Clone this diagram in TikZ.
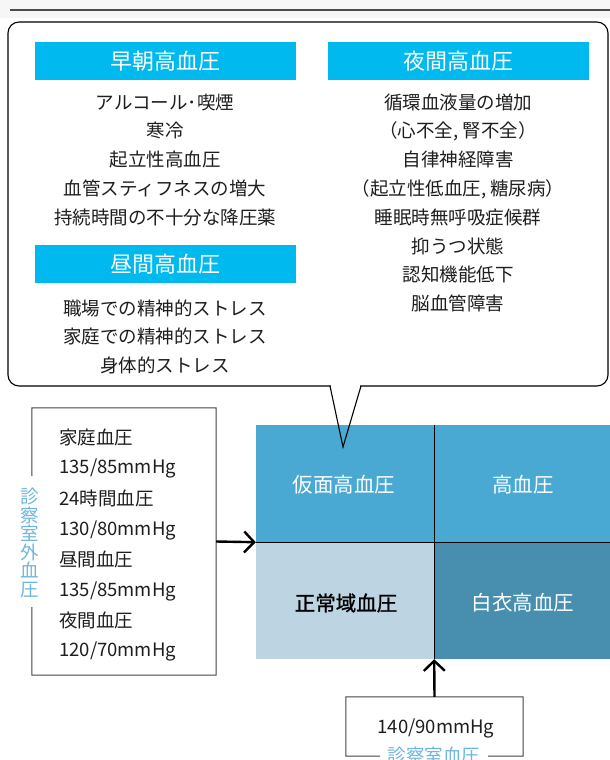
\documentclass[tikz,border=0pt]{standalone}
\usepackage{fontspec}
\setmainfont{Noto Sans CJK JP}
\newfontfamily\jpbold[FakeBold=1.2]{Noto Sans CJK JP}
\usetikzlibrary{arrows.meta}
\definecolor{hdrcyan}{HTML}{00B9EE}
\definecolor{celltop}{HTML}{49A9D2}
\definecolor{cellbl}{HTML}{BDD5E2}
\definecolor{cellbr}{HTML}{488FAF}
\definecolor{lblblue}{HTML}{6DB6DC}
\definecolor{txtdark}{HTML}{1E1E1E}
\definecolor{boxgray}{HTML}{444444}
\tikzset{
  hdr/.style={fill=hdrcyan, text=white, minimum width=261pt, minimum height=38.5pt, inner sep=0pt,
    text height=18.3pt, text depth=1.5pt, font=\fontsize{22}{26}\selectfont},
  bodytxt/.style={inner sep=0pt, text=txtdark, text height=15.4pt, text depth=1.3pt,
    font=\fontsize{18.5}{22}\selectfont},
  boxtxt/.style={bodytxt, anchor=west},
  cell/.style={inner sep=0pt, minimum height=117pt},
  celltxt/.style={inner sep=0pt, text height=17pt, text depth=1.4pt, font=\fontsize{20.5}{24}\selectfont},
  boxline/.style={draw=boxgray, line width=1pt},
  arr/.style={line width=2.4pt, -{Straight Barb[length=10pt,width=21pt]}},
}
\begin{document}
\begin{tikzpicture}[x=1pt,y=-1pt]
\useasboundingbox (0,0) rectangle (610,760);
% top band and line
\fill[gray!7] (0,0) rectangle (610,18);
\draw[gray!60!black, line width=1.3pt] (10,10) -- (610,10);

% callout
\draw[line width=1.1pt, rounded corners=11pt, fill=white] (345,386) -- (8,386) -- (8,22) -- (608,22) -- (608,386) -- (345,386);
\fill[white] (331,384) rectangle (360,389);
\coordinate (ptL) at (330,386);
\coordinate (ptR) at (361,386);
\coordinate (ptip) at (343,447);

% headers
\node[hdr] (h1) at (165,61) {早朝高血圧};
\node[hdr] (h2) at (458,61) {夜間高血圧};
\node[hdr] (h3) at (165,264) {昼間高血圧};

% left column
\node[bodytxt] (a1) at (165,102) {アルコール･喫煙};
\node[bodytxt] (a2) at (165,130.8) {寒冷};
\node[bodytxt] (a3) at (165,159.6) {起立性高血圧};
\node[bodytxt] (a4) at (165,188.4) {血管スティフネスの増大};
\node[bodytxt] (a5) at (165,217.2) {持続時間の不十分な降圧薬};

\node[bodytxt] (b1) at (165,308) {職場での精神的ストレス};
\node[bodytxt] (b2) at (165,336.8) {家庭での精神的ストレス};
\node[bodytxt] (b3) at (165,365.6) {身体的ストレス};

% right column
\node[bodytxt] (c1) at (458,102) {循環血液量の増加};
\node[bodytxt] (c2) at (458,130.8) {（心不全, 腎不全）};
\node[bodytxt] (c3) at (458,159.6) {自律神経障害};
\node[bodytxt] (c4) at (458,188.4) {（起立性低血圧, 糖尿病）};
\node[bodytxt] (c5) at (458,217.2) {睡眠時無呼吸症候群};
\node[bodytxt] (c6) at (458,246) {抑うつ状態};
\node[bodytxt] (c7) at (458,274.8) {認知機能低下};
\node[bodytxt] (c8) at (458,303.6) {脳血管障害};

% grid
\node[cell, fill=celltop, minimum width=178pt] (tl) at (345,483.5) {};
\node[cell, fill=celltop, minimum width=176pt] (tr) at (522,483.5) {};
\node[cell, fill=cellbl, minimum width=178pt] (bl) at (345,600.5) {};
\node[cell, fill=cellbr, minimum width=176pt] (br) at (522,600.5) {};
\draw[line width=0.9pt] (tl.north east) -- (bl.south east);
\draw[line width=0.9pt] (tl.south west) -- (tr.south east);
\node[celltxt, text=white] (t1) at (344,485) {仮面高血圧};
\node[celltxt, text=white] (t2) at (523,485) {高血圧};
\node[celltxt, text=black, font=\fontsize{20.5}{24}\jpbold] (t3) at (346,603) {正常域血圧};
\node[celltxt, text=white] (t4) at (523,603) {白衣高血圧};

% callout pointer
\draw[line width=1.1pt, line join=miter] (ptL) -- (ptip) -- (ptR);

% left box
\node[inner sep=0pt, minimum width=184pt, minimum height=267pt] (lbox) at (124,541.5) {};
\draw[boxline] (32,476) -- (lbox.north west) -- (lbox.north east) -- (lbox.south east) -- (lbox.south west) -- (32,607);
\node[boxtxt] (l1) at (59,437) {家庭血圧};
\node[boxtxt] (l2) at (59,466) {135/85mmHg};
\node[boxtxt] (l3) at (59,498) {24時間血圧};
\node[boxtxt] (l4) at (59,528) {130/80mmHg};
\node[boxtxt] (l5) at (59,559) {昼間血圧};
\node[boxtxt] (l6) at (59,589) {135/85mmHg};
\node[boxtxt] (l7) at (59,620) {夜間血圧};
\node[boxtxt] (l8) at (59,649) {120/70mmHg};
\node[inner sep=0pt, text=lblblue, align=center, font=\fontsize{18.5}{18.6}\selectfont] (vlab) at (30,543) {診\\察\\室\\外\\血\\圧};

% bottom box
\node[inner sep=0pt, minimum width=177pt, minimum height=59pt] (bbox) at (434.5,726.5) {};
\draw[boxline] (380,756) -- (bbox.south west) -- (bbox.north west) -- (bbox.north east) -- (bbox.south east) -- (488,756);
\node[bodytxt] (bt) at (436,726) {140/90mmHg};
\node[bodytxt, text=lblblue] (blab) at (434,755) {診察室血圧};

% arrows
\draw[arr] (lbox.east) -- (tl.south west);
\draw[arr] (bbox.north) -- (bl.south east);
\end{tikzpicture}
\end{document}
